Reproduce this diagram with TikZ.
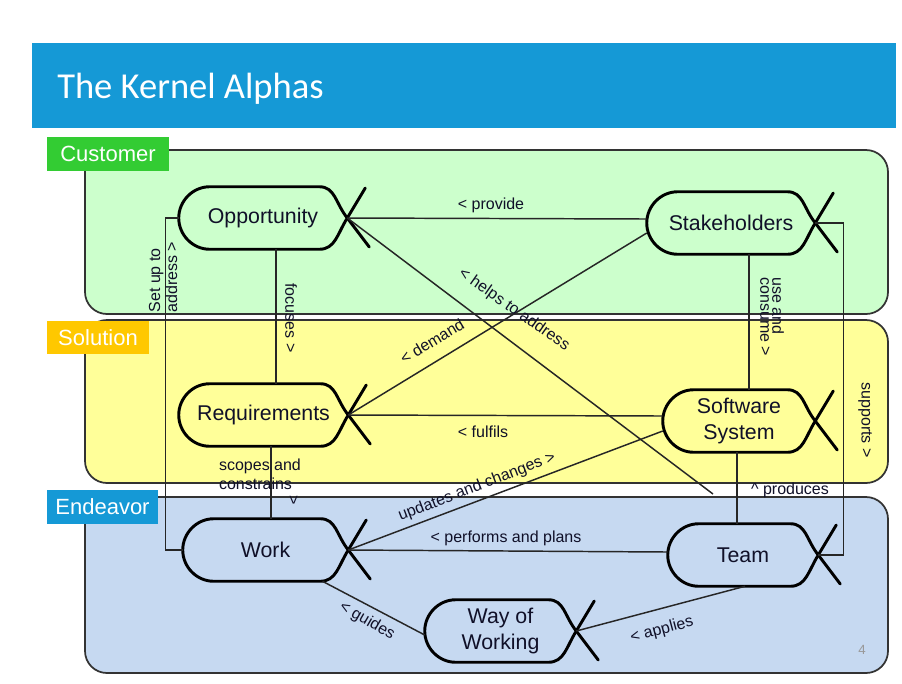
\documentclass[tikz,border=0pt]{standalone}
\usepackage{fontspec}
\setmainfont{Liberation Sans}
\newfontfamily\titlefont{Carlito}
\usetikzlibrary{calc}
\definecolor{titleblue}{HTML}{1599D6}
\definecolor{custgreen}{HTML}{33CC33}
\definecolor{solorange}{HTML}{FFC800}
\definecolor{custfill}{HTML}{CCFFCC}
\definecolor{solfill}{HTML}{FFFF99}
\definecolor{endfill}{HTML}{C6D9F1}
\definecolor{txt}{HTML}{101028}
\newcommand\alphashape[1]{%
  \draw[alphaline] (#1.east) .. controls +(-12,-15) and +(16,0) .. ($(#1.north east)+(-28,0)$)
    -- ($(#1.north west)+(31,0)$) .. controls +(-17,0) and +(0,-17) .. (#1.west)
    .. controls +(0,17) and +(-17,0) .. ($(#1.south west)+(31,0)$)
    -- ($(#1.south east)+(-28,0)$) .. controls +(16,0) and +(-10,16) .. (#1.east) -- +(18,-30);
  \draw[alphaline] (#1.east) -- +(22,29);}
\begin{document}
\begin{tikzpicture}[x=0.75pt,y=-0.75pt,
  alphabox/.style={rectangle,inner sep=0pt,minimum height=46.5pt,font=\fontsize{16}{19}\selectfont,align=center,text=txt},
  alphaline/.style={line width=2.2pt,line join=round,line cap=round,draw=black},
  conn/.style={line width=1.1pt,draw=black!85},
  elabel/.style={font=\fontsize{12}{14}\selectfont,text=txt,inner sep=1pt},
  panel/.style={line width=1.3pt,draw=black!80,rounded corners=16.5pt},
  grouplabel/.style={rectangle,inner sep=0pt,font=\fontsize{16.5}{18}\selectfont,text=white}]
\useasboundingbox (0,0) rectangle (902,683);
\fill[white] (0,0) rectangle (902,683);
% title
\fill[titleblue] (32,43) rectangle (896,128);
\node[anchor=base west,inner sep=0pt,text=white,font=\titlefont\fontsize{27.4}{30}\selectfont] (title) at (57,98) {The Kernel Alphas};
% panels
\draw[panel,fill=custfill] (85,150) rectangle (888,314);
\draw[panel,fill=solfill] (85,320) rectangle (888,483);
\draw[panel,fill=endfill] (85,497) rectangle (888,673);
\node[grouplabel,fill=custgreen,minimum width=91.5pt,minimum height=25.5pt] (gcust) at (108,154) {Customer};
\node[grouplabel,fill=solorange,minimum width=76.5pt,minimum height=24.75pt] (gsol) at (98,337.5) {Solution};
\node[grouplabel,fill=titleblue,minimum width=83.25pt,minimum height=25.5pt] (gend) at (102.5,507) {Endeavor};
% alphas
\node[alphabox,minimum width=126pt] (opp) at (263,218) {Opportunity};
\node[alphabox,minimum width=126pt] (stk) at (731,223) {Stakeholders};
\node[alphabox,minimum width=126.75pt] (req) at (263.5,415) {Requirements};
\node[alphabox,minimum width=123.75pt] (work) at (265.5,550) {Work};
\node[alphabox,minimum width=114pt] (sw) at (739,421) {Software\\System};
\node[alphabox,minimum width=112.5pt] (team) at (743,555) {Team};
\node[alphabox,minimum width=113.25pt] (wow) at (500.5,631) {Way of\\Working};
\alphashape{opp}
\alphashape{stk}
\alphashape{req}
\alphashape{work}
\alphashape{sw}
\alphashape{team}
\alphashape{wow}
% connectors
\coordinate (helpend) at (713,494);
\draw[conn] (opp.east) -- ($(stk.west)+(0,-4)$);
\draw[conn] (opp.east) -- (helpend);
\draw[conn] (req.east) -- ($(stk.west)+(0,10)$);
\draw[conn] (req.east) -- ($(sw.west)+(0,-5)$);
\draw[conn] (work.east) -- ($(sw.west)+(0,10)$);
\draw[conn] (work.east) -- ($(team.west)+(0,-3)$);
\draw[conn] ($(opp.south)+(13,0)$) -- ($(req.north)+(12.5,0)$);
\draw[conn] ($(req.south)+(7.5,0)$) -- ($(work.north)+(5.5,0)$);
\draw[conn] (opp.west) -- ++(-13,0) |- (work.west);
\draw[conn] ($(stk.south)+(18,0)$) -- ($(sw.north)+(10,0)$);
\draw[conn] (stk.east) -- ++(28,0) |- (team.east);
\draw[conn] ($(sw.south)+(-2,0)$) -- ($(team.north)+(-6,0)$);
\draw[conn] ($(work.south)+(57,0)$) -- ($(wow.west)+(0,4)$);
\draw[conn] (wow.east) -- ($(team.south)+(2,0)$);
% connector labels
\node[elabel] (lprov) at (491,205) {< provide};
\node[elabel,rotate=-35] (lhelp) at (514,310) {< helps to address};
\node[elabel,rotate=31] (ldem) at (432,341) {< demand};
\node[elabel] (lful) at (483,432) {< fulfils};
\node[elabel,rotate=21] (lupd) at (477,487) {updates and changes >};
\node[elabel] (lperf) at (506,538) {< performs and plans};
\node[elabel,rotate=-90] (lfoc) at (291,318) {focuses >};
\node[elabel,align=left] (lscope) at (260,474) {scopes and\\constrains};
\node[elabel,rotate=-90] (lscopearr) at (293,500) {>};
\node[elabel,rotate=90,align=left,font=\fontsize{12}{12.75}\selectfont] (lsetup) at (163,277) {Set up to\\address >};
\node[elabel,rotate=-90,align=left,font=\fontsize{12}{9}\selectfont] (luse) at (772,317) {use and\\consume >};
\node[elabel,rotate=-90] (lsup) at (865,420) {supports >};
\node[elabel] (lprod) at (790,490) {\textasciicircum\ produces};
\node[elabel,rotate=-30] (lguide) at (367,621) {< guides};
\node[elabel,rotate=15] (lapp) at (662,630) {< applies};
\node[font=\fontsize{10}{12}\selectfont,text=black!40] (pnum) at (862,650) {4};
\end{tikzpicture}
\end{document}
